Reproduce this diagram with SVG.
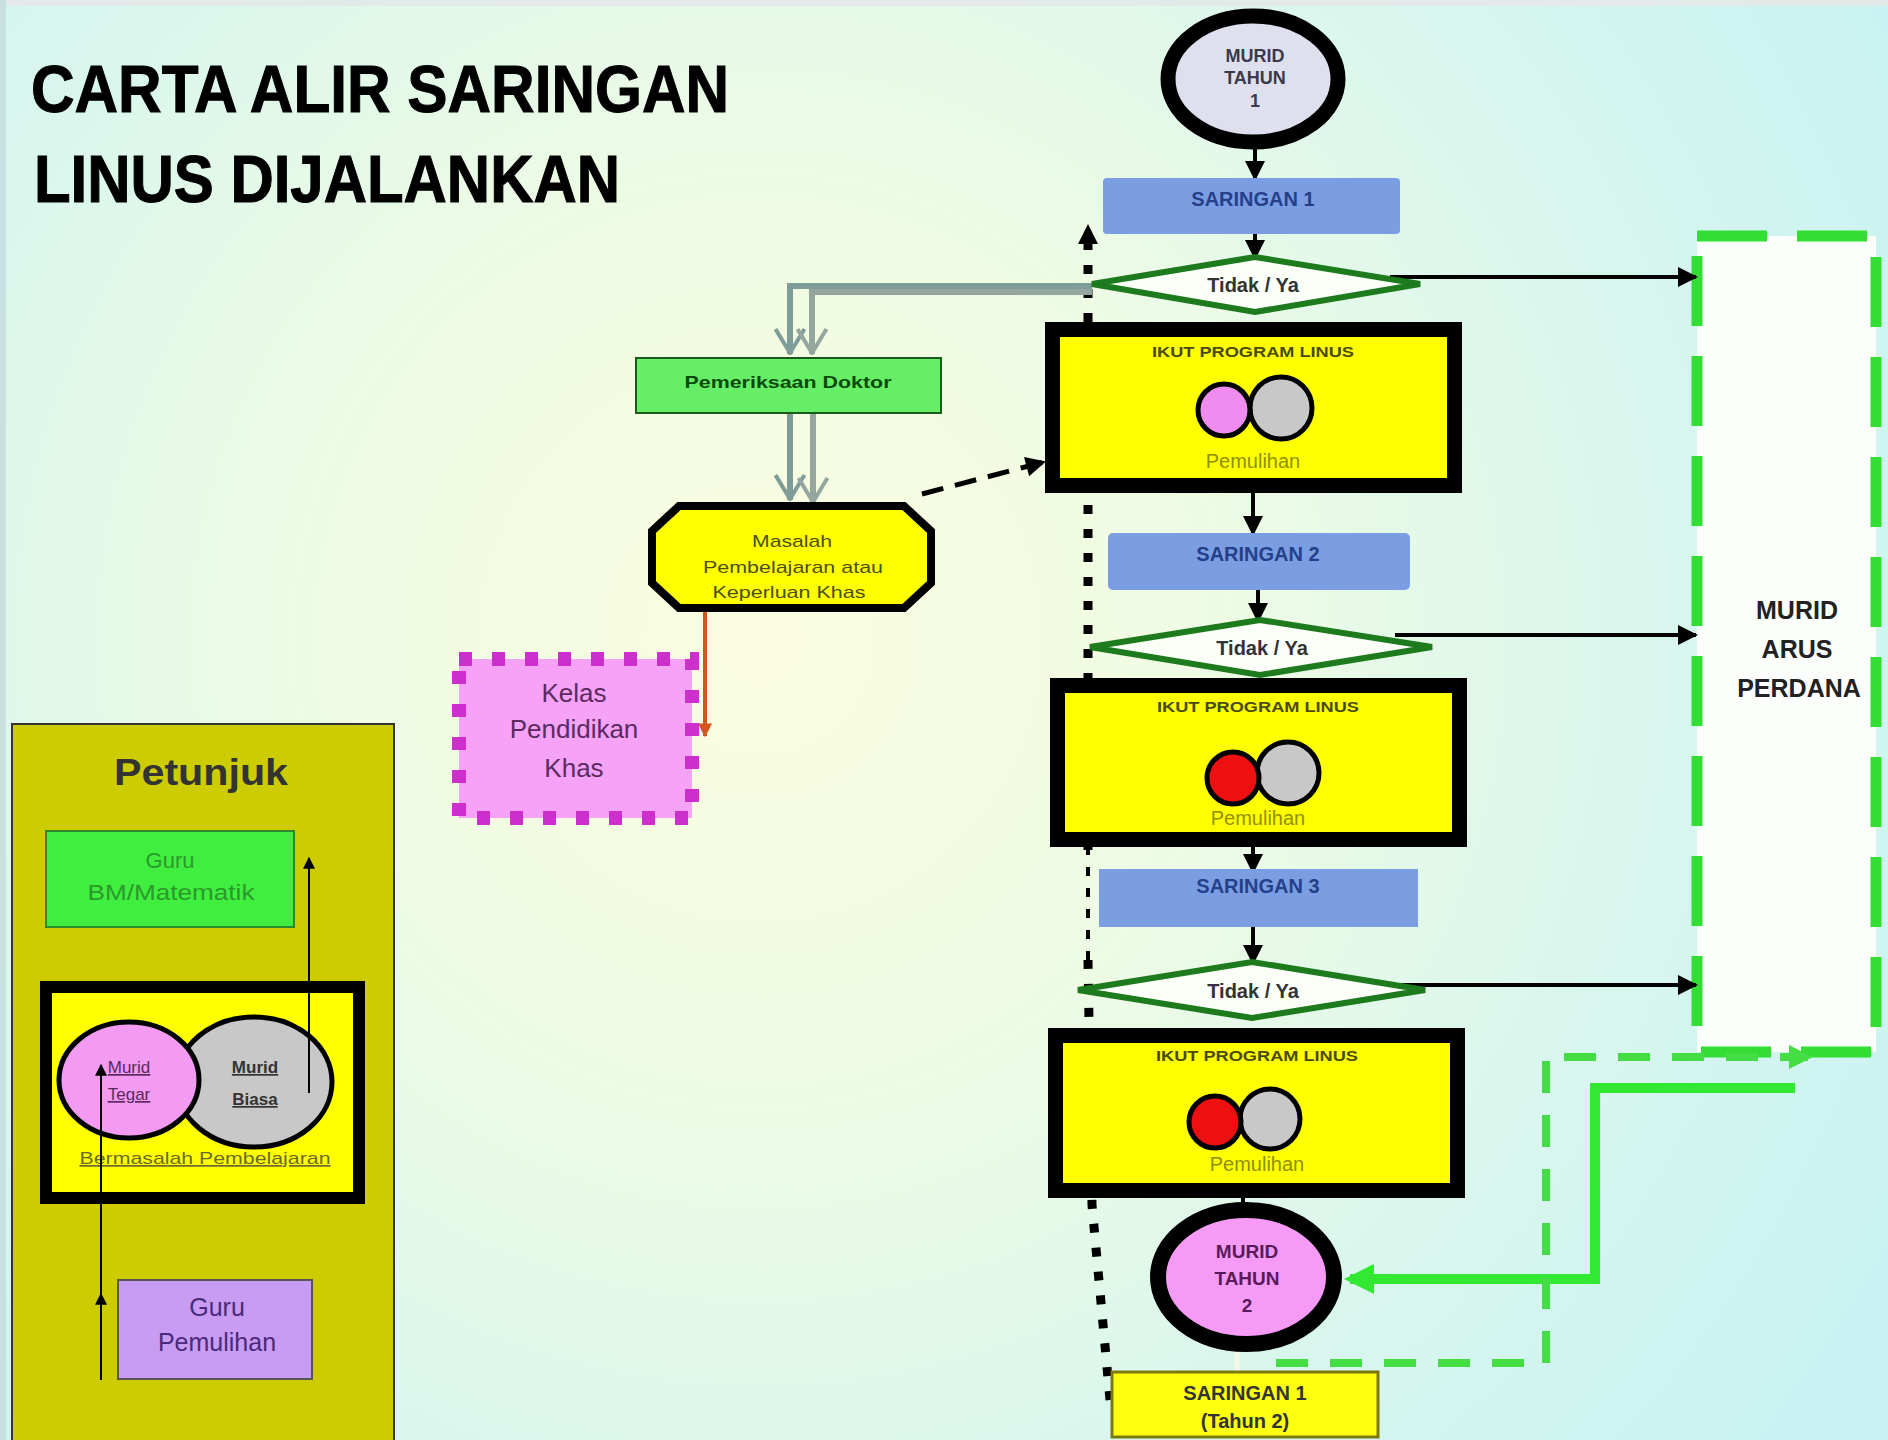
<svg xmlns="http://www.w3.org/2000/svg" width="1888" height="1440" viewBox="0 0 1888 1440">
<defs>
<radialGradient id="bg" cx="760" cy="640" r="1300" gradientUnits="userSpaceOnUse">
<stop offset="0" stop-color="#fbfde0"/>
<stop offset="0.35" stop-color="#eefbe4"/>
<stop offset="0.7" stop-color="#d8f6ee"/>
<stop offset="1" stop-color="#c9f2f2"/>
</radialGradient>
<marker id="ah" viewBox="0 0 10 10" refX="9" refY="5" markerWidth="22" markerHeight="20" markerUnits="userSpaceOnUse" orient="auto"><path d="M0,0L10,5L0,10z" fill="#000"/></marker>
<marker id="ahs" viewBox="0 0 10 10" refX="9" refY="5" markerWidth="14" markerHeight="12" markerUnits="userSpaceOnUse" orient="auto"><path d="M0,0L10,5L0,10z" fill="#000"/></marker>
<marker id="ahg" viewBox="0 0 10 10" refX="8" refY="5" markerWidth="30" markerHeight="30" markerUnits="userSpaceOnUse" orient="auto"><path d="M0,0L10,5L0,10z" fill="#33e833"/></marker>
<marker id="ahgd" viewBox="0 0 10 10" refX="8" refY="5" markerWidth="24" markerHeight="24" markerUnits="userSpaceOnUse" orient="auto"><path d="M0,0L10,5L0,10z" fill="#44dd44"/></marker>
<marker id="ahr" viewBox="0 0 10 10" refX="9" refY="5" markerWidth="14" markerHeight="14" markerUnits="userSpaceOnUse" orient="auto"><path d="M0,0L10,5L0,10z" fill="#d4541c"/></marker>
<marker id="vA" viewBox="0 0 27 33" refX="26" refY="16.5" markerWidth="27" markerHeight="33" markerUnits="userSpaceOnUse" orient="auto"><path d="M1,2L25,16.5L1,31" fill="none" stroke="#7e9c98" stroke-width="4"/></marker>
<marker id="vB" viewBox="0 0 27 33" refX="26" refY="16.5" markerWidth="27" markerHeight="33" markerUnits="userSpaceOnUse" orient="auto"><path d="M1,2L25,16.5L1,31" fill="none" stroke="#94a69e" stroke-width="4"/></marker>
</defs>
<style>
text{font-family:"Liberation Sans",Arial,Helvetica,sans-serif;text-anchor:middle}
.b{font-weight:bold}
.sar{fill:#7b9de2}
.sart{font-weight:bold;font-size:20px;fill:#24408a}
.dia{fill:#fbfff8;stroke:#1d7a1d;stroke-width:6}
.diat{font-weight:bold;font-size:20px;fill:#333}
.ikut{fill:#ffff00;stroke:#000;stroke-width:15}
.ikt{font-weight:bold;font-size:14px;fill:#4a4a10}
.pem{font-size:20px;fill:#8f8f00}
.cir{stroke:#000;stroke-width:5}
.arr{stroke:#000;stroke-width:4;fill:none}
.rarr{stroke:#000;stroke-width:4;fill:none}
</style>
<rect x="0" y="0" width="1888" height="1440" fill="url(#bg)"/>
<rect x="0" y="0" width="1888" height="6" fill="#e4eaea"/>
<rect x="0" y="0" width="6" height="1440" fill="#c9e0e0"/>

<g id="title">
<text x="31" y="112" class="b" font-size="66" textLength="698" lengthAdjust="spacingAndGlyphs" style="text-anchor:start" fill="#000" stroke="#000" stroke-width="1">CARTA ALIR SARINGAN</text>
<text x="34" y="202" class="b" font-size="66" textLength="586" lengthAdjust="spacingAndGlyphs" style="text-anchor:start" fill="#000" stroke="#000" stroke-width="1">LINUS DIJALANKAN</text>
</g>

<g id="arus-perdana">
<rect x="1697" y="236" width="179" height="816" fill="#fcfefc" stroke="#33dd33" stroke-width="11" stroke-dasharray="70 30"/>
<text x="1797" y="619" class="b" font-size="25" fill="#222">MURID</text>
<text x="1797" y="658" class="b" font-size="25" fill="#222">ARUS</text>
<text x="1799" y="697" class="b" font-size="25" fill="#222">PERDANA</text>
</g>

<g id="connectors">
<path d="M1110,1400 L1092,1205 L1088,960" fill="none" stroke="#000" stroke-width="9" stroke-dasharray="9 15"/>
<path d="M1088,960 L1088,850" fill="none" stroke="#000" stroke-width="4" stroke-dasharray="9 12"/>
<path d="M1088,850 L1088,226" fill="none" stroke="#000" stroke-width="9" stroke-dasharray="9 15" marker-end="url(#ah)"/>
<line x1="1255" y1="148" x2="1255" y2="179" class="arr" marker-end="url(#ah)"/>
<line x1="1255" y1="234" x2="1255" y2="258" class="arr" marker-end="url(#ah)"/>
<line x1="1253" y1="492" x2="1253" y2="534" class="arr" marker-end="url(#ah)"/>
<line x1="1258" y1="590" x2="1258" y2="621" class="arr" marker-end="url(#ah)"/>
<line x1="1253" y1="846" x2="1253" y2="872" class="arr" marker-end="url(#ah)"/>
<line x1="1253" y1="927" x2="1253" y2="963" class="arr" marker-end="url(#ah)"/>
<line x1="1243" y1="1197" x2="1243" y2="1206" class="arr"/>
<line x1="1237" y1="1350" x2="1237" y2="1372" stroke="#f6f6e4" stroke-width="5"/>
<line x1="1390" y1="277" x2="1696" y2="277" class="rarr" marker-end="url(#ah)"/>
<line x1="1395" y1="635" x2="1696" y2="635" class="rarr" marker-end="url(#ah)"/>
<line x1="1395" y1="985" x2="1696" y2="985" class="rarr" marker-end="url(#ah)"/>
<path d="M1092,286 H790 V354" fill="none" stroke="#7e9c98" stroke-width="6" marker-end="url(#vA)"/>
<path d="M1092,292 H812 V354" fill="none" stroke="#94a69e" stroke-width="6" marker-end="url(#vB)"/>
<path d="M790,413 V500" fill="none" stroke="#7e9c98" stroke-width="6" marker-end="url(#vA)"/>
<path d="M813,413 V503" fill="none" stroke="#94a69e" stroke-width="6" marker-end="url(#vB)"/>
<line x1="922" y1="494" x2="1044" y2="462" stroke="#000" stroke-width="5" stroke-dasharray="22 12" marker-end="url(#ah)"/>
<line x1="705" y1="612" x2="705" y2="736" stroke="#d4541c" stroke-width="4" marker-end="url(#ahr)"/>
<path d="M1795,1088 H1595 V1279 H1350" fill="none" stroke="#33e833" stroke-width="10" marker-end="url(#ahg)"/>
<path d="M1276,1363 H1546 V1057 H1808" fill="none" stroke="#44dd44" stroke-width="8" stroke-dasharray="32 22" marker-end="url(#ahgd)"/>
</g>

<g id="murid-tahun-1">
<ellipse cx="1253" cy="79" rx="85" ry="63" fill="#dfe0ee" stroke="#000" stroke-width="15"/>
<text x="1255" y="62" class="b" font-size="18" fill="#3a3a48">MURID</text>
<text x="1255" y="84" class="b" font-size="18" fill="#3a3a48">TAHUN</text>
<text x="1255" y="107" class="b" font-size="18" fill="#3a3a48">1</text>
</g>

<g id="saringan-1">
<rect x="1103" y="178" width="297" height="56" rx="4" class="sar"/>
<text x="1253" y="206" class="sart">SARINGAN 1</text>
</g>

<g id="keputusan-1">
<polygon points="1092,284 1255,257 1420,284 1255,312" class="dia"/>
<text x="1253" y="292" class="diat">Tidak / Ya</text>
</g>

<g id="ikut-1">
<rect x="1052.5" y="329.5" width="402" height="156" class="ikut"/>
<text x="1253" y="357" class="ikt" textLength="202" lengthAdjust="spacingAndGlyphs">IKUT PROGRAM LINUS</text>
<circle cx="1281" cy="408" r="31" fill="#c8c8c8" class="cir"/>
<circle cx="1224" cy="410" r="26" fill="#f08cf0" class="cir"/>
<text x="1253" y="468" class="pem">Pemulihan</text>
</g>

<g id="saringan-2">
<rect x="1108" y="533" width="302" height="57" rx="5" class="sar"/>
<text x="1258" y="561" class="sart">SARINGAN 2</text>
</g>

<g id="keputusan-2">
<polygon points="1090,647 1260,620 1432,647 1260,675" class="dia"/>
<text x="1262" y="655" class="diat">Tidak / Ya</text>
</g>

<g id="ikut-2">
<rect x="1057.5" y="685.5" width="402" height="154" class="ikut"/>
<text x="1258" y="712" class="ikt" textLength="202" lengthAdjust="spacingAndGlyphs">IKUT PROGRAM LINUS</text>
<circle cx="1288" cy="773" r="31" fill="#c8c8c8" class="cir"/>
<circle cx="1233" cy="778" r="26" fill="#ee1010" class="cir"/>
<text x="1258" y="825" class="pem">Pemulihan</text>
</g>

<g id="saringan-3">
<rect x="1099" y="869" width="319" height="58" class="sar"/>
<text x="1258" y="893" class="sart">SARINGAN 3</text>
</g>

<g id="keputusan-3">
<polygon points="1078,990 1252,962 1425,990 1252,1018" class="dia"/>
<text x="1253" y="998" class="diat">Tidak / Ya</text>
</g>

<g id="ikut-3">
<rect x="1055.5" y="1035.5" width="402" height="155" class="ikut"/>
<text x="1257" y="1061" class="ikt" textLength="202" lengthAdjust="spacingAndGlyphs">IKUT PROGRAM LINUS</text>
<circle cx="1270" cy="1119" r="30" fill="#c8c8c8" class="cir"/>
<circle cx="1215" cy="1122" r="26" fill="#ee1010" class="cir"/>
<text x="1257" y="1171" class="pem">Pemulihan</text>
</g>

<g id="murid-tahun-2">
<ellipse cx="1246" cy="1277" rx="88" ry="67" fill="#f59af5" stroke="#000" stroke-width="16"/>
<text x="1247" y="1258" class="b" font-size="19" fill="#5a1a5a">MURID</text>
<text x="1247" y="1285" class="b" font-size="19" fill="#5a1a5a">TAHUN</text>
<text x="1247" y="1312" class="b" font-size="19" fill="#5a1a5a">2</text>
</g>

<g id="saringan-1-tahun-2">
<rect x="1112" y="1372" width="266" height="65" fill="#ffff10" stroke="#7a7a10" stroke-width="3"/>
<text x="1245" y="1400" class="b" font-size="20" fill="#333">SARINGAN 1</text>
<text x="1245" y="1428" class="b" font-size="20" fill="#333">(Tahun 2)</text>
</g>

<g id="pemeriksaan-doktor">
<rect x="636" y="358" width="305" height="55" fill="#66ee66" stroke="#1a5a1a" stroke-width="2"/>
<text x="788" y="388" class="b" font-size="17" fill="#0a4a0a" textLength="207" lengthAdjust="spacingAndGlyphs">Pemeriksaan Doktor</text>
</g>

<g id="masalah-pembelajaran">
<polygon points="679,506 904,506 931,531 931,583 904,608 679,608 652,583 652,531" fill="#ffff00" stroke="#000" stroke-width="8"/>
<text x="792" y="547" font-size="17" fill="#4e4e1a" textLength="80" lengthAdjust="spacingAndGlyphs">Masalah</text>
<text x="793" y="573" font-size="17" fill="#4e4e1a" textLength="180" lengthAdjust="spacingAndGlyphs">Pembelajaran atau</text>
<text x="789" y="598" font-size="17" fill="#4e4e1a" textLength="153" lengthAdjust="spacingAndGlyphs">Keperluan Khas</text>
</g>

<g id="kelas-pendidikan-khas">
<rect x="459" y="659" width="233" height="159" fill="#f6a2f6" stroke="#cc2fcc" stroke-width="14" stroke-dasharray="13 20"/>
<text x="574" y="702" font-size="26" fill="#5a2a62">Kelas</text>
<text x="574" y="738" font-size="26" fill="#5a2a62">Pendidikan</text>
<text x="574" y="777" font-size="26" fill="#5a2a62">Khas</text>
</g>

<g id="petunjuk">
<rect x="12" y="724" width="382" height="730" fill="#cccc00" stroke="#333" stroke-width="2"/>
<text x="201" y="785" class="b" font-size="36" fill="#333" textLength="174" lengthAdjust="spacingAndGlyphs">Petunjuk</text>
<rect x="46" y="831" width="248" height="96" fill="#40ee40" stroke="#2d8a2d" stroke-width="2"/>
<text x="170" y="868" font-size="22" fill="#2a9a2a">Guru</text>
<text x="171" y="900" font-size="22" fill="#2a9a2a" textLength="167" lengthAdjust="spacingAndGlyphs">BM/Matematik</text>
<rect x="46" y="987" width="313" height="211" fill="#ffff00" stroke="#000" stroke-width="12"/>
<ellipse cx="254" cy="1082" rx="78" ry="65" fill="#c8c8c8" stroke="#000" stroke-width="5"/>
<ellipse cx="129" cy="1080" rx="70" ry="58" fill="#f39af3" stroke="#000" stroke-width="5"/>
<text x="129" y="1073" font-size="17" fill="#5a2a5a" text-decoration="underline">Murid</text>
<text x="129" y="1100" font-size="17" fill="#5a2a5a" text-decoration="underline">Tegar</text>
<text x="255" y="1073" class="b" font-size="17" fill="#333" text-decoration="underline">Murid</text>
<text x="255" y="1105" class="b" font-size="17" fill="#333" text-decoration="underline">Biasa</text>
<text x="205" y="1164" font-size="17" fill="#6a6a2a" text-decoration="underline" textLength="251" lengthAdjust="spacingAndGlyphs">Bermasalah Pembelajaran</text>
<rect x="118" y="1280" width="194" height="99" fill="#c89cf2" stroke="#555" stroke-width="2"/>
<text x="217" y="1316" font-size="25" fill="#4a2a7a">Guru</text>
<text x="217" y="1351" font-size="25" fill="#4a2a7a">Pemulihan</text>
<path d="M101,1380 L101,1294 L101,1065" fill="none" stroke="#000" stroke-width="2" marker-mid="url(#ahs)" marker-end="url(#ahs)"/>
<path d="M309,1093 V858" fill="none" stroke="#000" stroke-width="2" marker-end="url(#ahs)"/>
</g>
</svg>
